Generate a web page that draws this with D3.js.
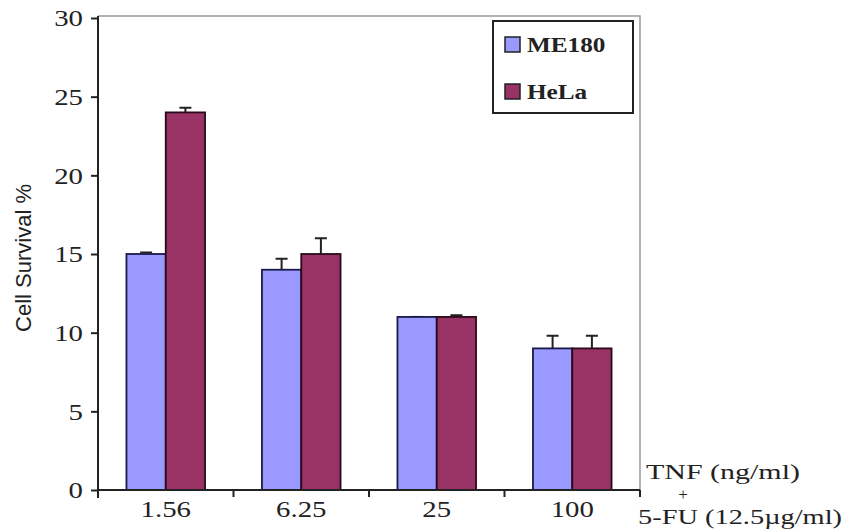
<!DOCTYPE html>
<html>
<head>
<meta charset="utf-8">
<script src="https://cdn.jsdelivr.net/npm/d3@7"></script>
<style>
  body { margin: 0; background: #fff; }
  svg { display: block; }
</style>
</head>
<body>
<div id="chart"></div>
<script>
// data
var doses = ["1.56", "6.25", "25", "100"];
var seriesNames = ["ME180", "HeLa"];
var me180 = [15, 14, 11, 9];
var me180Err = [0.1, 0.7, 0, 0.8];
var hela = [24, 15, 11, 9];
var helaErr = [0.3, 1.0, 0.1, 0.8];
var yTicks = [0, 5, 10, 15, 20, 25, 30];

var colors = { ME180: "#9999ff", HeLa: "#993366" };
var serif = "'Liberation Serif', 'Times New Roman', serif";

var svgWidth = 844;
var svgHeight = 531;
var margin = { top: 18, right: 204, bottom: 41, left: 98 };
var width = svgWidth - margin.left - margin.right;
var height = svgHeight - margin.top - margin.bottom;

// the source picture is a bit wider than tall, so text gets stretched
function stretch(sel, k) {
  sel.each(function() {
    var len = this.getComputedTextLength();
    d3.select(this)
      .attr("textLength", len * k)
      .attr("lengthAdjust", "spacingAndGlyphs");
  });
}

var svg = d3.select("#chart")
  .append("svg")
  .attr("width", svgWidth)
  .attr("height", svgHeight);

var chartGroup = svg.append("g")
  .attr("transform", `translate(${margin.left}, ${margin.top})`);

var xScale = d3.scaleBand()
  .domain(doses)
  .range([0, width]);

var xInner = d3.scaleBand()
  .domain(seriesNames)
  .range([xScale.bandwidth() * 0.21, xScale.bandwidth() * 0.79]);

var yScale = d3.scaleLinear()
  .domain([0, 30])
  .range([height, 0]);

// frame (top and right, light grey)
chartGroup.append("path")
  .attr("d", `M0,-2H${width}V${height}`)
  .attr("fill", "none")
  .attr("stroke", "#999")
  .attr("stroke-width", 1.5);

var rows = doses.map(function(d, i) {
  return [
    { dose: d, name: "ME180", value: me180[i], err: me180Err[i] },
    { dose: d, name: "HeLa", value: hela[i], err: helaErr[i] }
  ];
});

var groups = chartGroup.selectAll(".dose")
  .data(rows)
  .enter()
  .append("g")
  .attr("class", "dose")
  .attr("transform", (d, i) => `translate(${xScale(doses[i])}, 0)`);

// error bars (only the upper half shows)
groups.selectAll(".err")
  .data(d => d)
  .enter()
  .append("path")
  .attr("class", "err")
  .attr("d", function(d) {
    var cx = xInner(d.name) + xInner.bandwidth() / 2;
    var top = yScale(d.value + d.err);
    return `M${cx},${yScale(d.value)}V${top}M${cx - 6},${top}H${cx + 6}`;
  })
  .attr("fill", "none")
  .attr("stroke", "#222")
  .attr("stroke-width", 2);

groups.selectAll("rect")
  .data(d => d)
  .enter()
  .append("rect")
  .attr("x", d => xInner(d.name))
  .attr("y", d => yScale(d.value))
  .attr("width", xInner.bandwidth())
  .attr("height", d => height - yScale(d.value))
  .attr("fill", d => colors[d.name])
  .attr("stroke", d => d.name === "ME180" ? "#1a1a4a" : "#2a0a1a")
  .attr("stroke-width", 1.8);

// y axis
var leftAxis = d3.axisLeft(yScale)
  .tickValues(yTicks)
  .tickSize(7)
  .tickSizeOuter(0)
  .tickPadding(8);

var yAxis = chartGroup.append("g")
  .call(leftAxis);
yAxis.select(".domain")
  .attr("d", `M0,${height + 8}V-2`)
  .attr("stroke", "#222")
  .attr("stroke-width", 2);
yAxis.selectAll(".tick line").attr("stroke", "#222").attr("stroke-width", 2);
yAxis.selectAll("text")
  .style("font-family", serif)
  .style("font-size", "24px")
  .attr("fill", "#222")
  .call(stretch, 1.2);

// x axis: labels at band centers, ticks at band boundaries
var bottomAxis = d3.axisBottom(xScale)
  .tickSize(0)
  .tickSizeOuter(0)
  .tickPadding(10);

var xAxis = chartGroup.append("g")
  .attr("transform", `translate(0, ${height})`)
  .call(bottomAxis);
xAxis.select(".domain")
  .attr("d", `M0,0H${width}`)
  .attr("stroke", "#222")
  .attr("stroke-width", 2);
xAxis.selectAll("text")
  .style("font-family", serif)
  .style("font-size", "24px")
  .attr("fill", "#222")
  .call(stretch, 1.2);

xAxis.selectAll(".sep")
  .data(doses.slice(1).concat(["end"]))
  .enter()
  .append("line")
  .attr("class", "sep")
  .attr("x1", (d, i) => i < doses.length - 1 ? xScale(d) : width)
  .attr("x2", (d, i) => i < doses.length - 1 ? xScale(d) : width)
  .attr("y1", 0)
  .attr("y2", 7)
  .attr("stroke", "#222")
  .attr("stroke-width", 2);

// y axis label
chartGroup.append("text")
  .attr("transform", `translate(${-67}, ${height / 2 + 4}) rotate(-90)`)
  .attr("text-anchor", "middle")
  .style("font-family", "'Liberation Sans', Arial, sans-serif")
  .style("font-size", "22px")
  .attr("fill", "#222")
  .text("Cell Survival %");

// x axis annotation to the right
var note = svg.append("g")
  .style("font-family", serif)
  .style("font-size", "22px")
  .attr("fill", "#222");
note.append("text").attr("x", 646).attr("y", 479)
  .attr("textLength", 154).attr("lengthAdjust", "spacingAndGlyphs")
  .text("TNF (ng/ml)");
note.append("text").attr("x", 683).attr("y", 500)
  .attr("text-anchor", "middle")
  .style("font-size", "17px")
  .text("+");
note.append("text").attr("x", 638).attr("y", 524)
  .attr("textLength", 204).attr("lengthAdjust", "spacingAndGlyphs")
  .text("5-FU (12.5\u00b5g/ml)");

// legend
var legend = svg.append("g")
  .attr("transform", "translate(493, 21)");
legend.append("rect")
  .attr("width", 140).attr("height", 92)
  .attr("fill", "#fff")
  .attr("stroke", "#222")
  .attr("stroke-width", 2);

var legendItems = legend.selectAll(".item")
  .data(seriesNames)
  .enter()
  .append("g")
  .attr("class", "item")
  .attr("transform", (d, i) => `translate(12, ${16 + i * 47})`);

legendItems.append("rect")
  .attr("width", 15)
  .attr("height", 15)
  .attr("fill", d => colors[d])
  .attr("stroke", "#222")
  .attr("stroke-width", 1.5);

legendItems.append("text")
  .attr("x", 22)
  .attr("y", 15)
  .style("font-family", serif)
  .style("font-size", "21px")
  .style("font-weight", "bold")
  .attr("fill", "#222")
  .text(d => d)
  .call(stretch, 1.2);
</script>
</body>
</html>
